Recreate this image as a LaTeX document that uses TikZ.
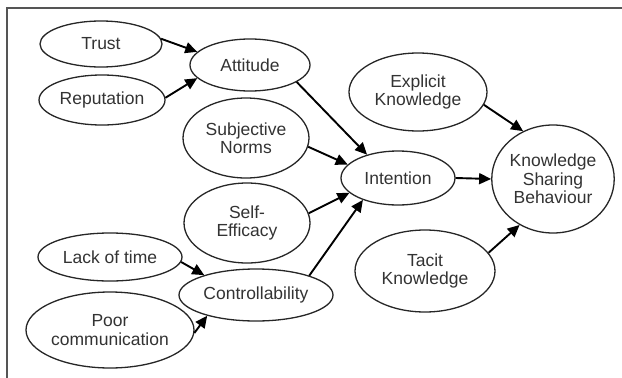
\documentclass[tikz,border=0pt]{standalone}
\usepackage{fontspec}
\setmainfont{Liberation Sans}
\usetikzlibrary{shapes.geometric,arrows.meta}
\definecolor{txt}{HTML}{333333}
\definecolor{frm}{HTML}{555555}
\tikzset{
  oval/.style={ellipse,draw=black!85,line width=1.3pt,inner sep=0pt,align=center,
    text=txt,font=\fontsize{17.5}{18.5}\selectfont},
  link/.style={line width=1.9pt,-{Triangle[length=12pt,width=11pt]}}
}
\begin{document}
\begin{tikzpicture}[x=1pt,y=-1pt]
\useasboundingbox (0,0) rectangle (622,378);
\fill[white] (0,0) rectangle (622,378);
\draw[frm,line width=2pt] (7,378) -- (7,8) -- (622,8);

\node[oval,minimum width=122pt,minimum height=46pt] (trust) at (101,44) {Trust};
\node[oval,minimum width=126pt,minimum height=50pt] (rep) at (102,100) {Reputation};
\node[oval,minimum width=120pt,minimum height=52pt] (att) at (250,65) {Attitude};
\node[oval,minimum width=126pt,minimum height=80pt] (subj) at (246,138) {Subjective\\Norms};
\node[oval,minimum width=126pt,minimum height=80pt] (self) at (247,223) {Self-\\Efficacy};
\node[oval,minimum width=154pt,minimum height=52pt] (ctrl) at (256,295) {Controllability};
\node[oval,minimum width=144pt,minimum height=48pt] (lack) at (110,257) {Lack of time};
\node[oval,minimum width=168pt,minimum height=76pt] (poor) at (110,330) {Poor\\communication};
\node[oval,minimum width=138pt,minimum height=78pt] (expl) at (418,92) {Explicit\\Knowledge};
\node[oval,minimum width=114pt,minimum height=54pt] (intn) at (398,178) {Intention};
\node[oval,minimum width=120pt,minimum height=108pt] (ksb) at (553,179) {Knowledge\\Sharing\\Behaviour};
\node[oval,minimum width=140pt,minimum height=82pt] (tacit) at (425,271) {Tacit\\Knowledge};

\draw[link] (trust.5) -- (att.166);
\draw[link] (rep.2) -- (att.194);
\draw[link] (att.-20) -- (intn.143);
\draw[link] (subj.-8) -- (intn.165);
\draw[link] (self.9) -- (intn.197);
\draw[link] (ctrl.20) -- (intn.212);
\draw[link] (lack.-4) -- (ctrl.159);
\draw[link] (poor.-2) -- (ctrl.203);
\draw[link] (intn.0) -- (ksb.180);
\draw[link] (expl.-11) -- (ksb.122);
\draw[link] (tacit.16) -- (ksb.234);
\end{tikzpicture}
\end{document}
